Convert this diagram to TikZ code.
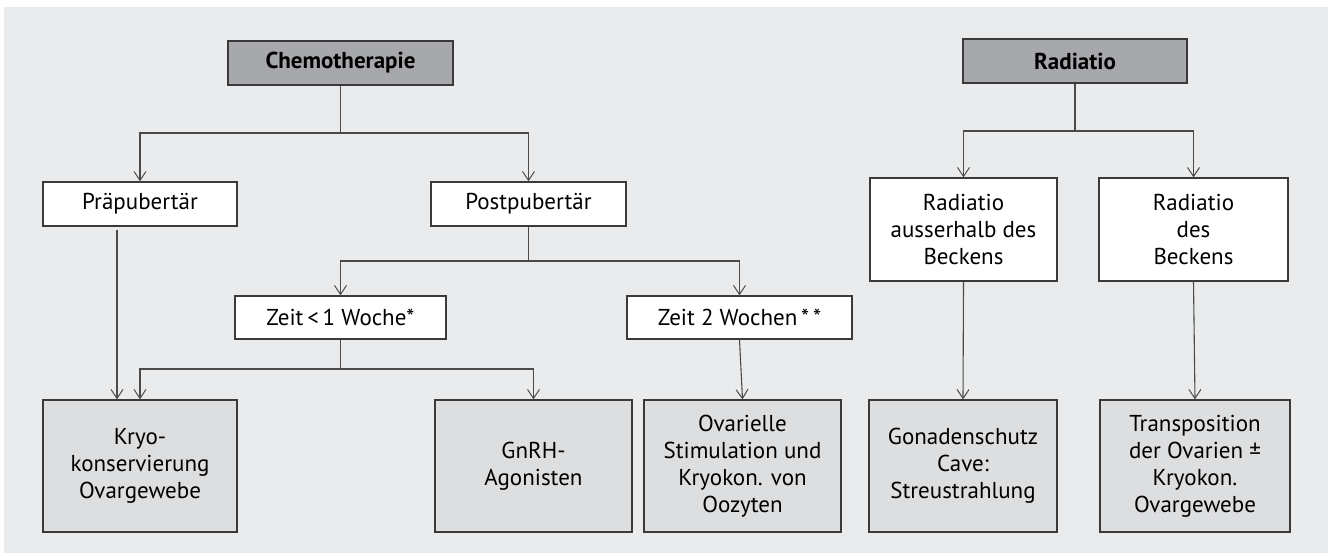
\documentclass[tikz,border=0pt]{standalone}
\usepackage{fontspec}
\setmainfont{PT Sans}
\usetikzlibrary{arrows.meta}
\definecolor{panel}{HTML}{EAEBEC}
\definecolor{darkfill}{HTML}{A6A8AB}
\definecolor{lightfill}{HTML}{DDDEE0}
\definecolor{edge}{HTML}{3A3A3A}
\definecolor{conn}{HTML}{4A4A4A}
\tikzset{
  box/.style={draw=edge, line width=1.3pt, inner sep=0pt, align=center,
    font=\fontsize{23}{27}\selectfont, text=black},
  headbox/.style={box, fill=darkfill, font=\fontsize{23}{27}\selectfont\bfseries},
  whitebox/.style={box, fill=white},
  endbox/.style={box, fill=lightfill},
  link/.style={draw=conn, line width=1.1pt},
  arr/.style={link, -{Straight Barb[length=9pt,width=12pt,line width=1pt]}}
}
\begin{document}
\begin{tikzpicture}[x=1pt,y=-1pt]
\useasboundingbox (0,0) rectangle (1335,556);
\fill[panel] (4,7) rectangle (1328,553);
% top level
\node[headbox, minimum width=225pt, minimum height=44pt] (chemo) at (340.5,63) {Chemotherapie};
\node[headbox, minimum width=224pt, minimum height=44pt] (radi) at (1075,61) {Radiatio};
% second level
\node[whitebox, minimum width=194pt, minimum height=44pt] (prae) at (140,204) {Präpubertär};
\node[whitebox, minimum width=195pt, minimum height=44pt] (post) at (528.5,204) {Postpubertär};
\node[whitebox, minimum width=187pt, minimum height=103pt] (rada) at (963.5,229.5) {Radiatio\\ausserhalb des\\Beckens};
\node[whitebox, minimum width=189pt, minimum height=103pt] (radb) at (1193.5,229.5) {Radiatio\\des\\Beckens};
% third level
\node[whitebox, minimum width=211pt, minimum height=43pt] (zeita) at (340.5,317.5) {Zeit\,<\,1 Woche*};
\node[whitebox, minimum width=225pt, minimum height=43pt] (zeitb) at (739.5,317.5) {Zeit 2 Wochen\,*\,*};
% bottom level
\node[endbox, minimum width=194pt, minimum height=132pt] (kryo) at (140,466) {Kryo-\\konservierung\\Ovargewebe};
\node[endbox, minimum width=197pt, minimum height=132pt] (gnrh) at (533.5,466) {GnRH-\\Agonisten};
\node[endbox, minimum width=197pt, minimum height=132pt] (ovar) at (742.5,466) {Ovarielle\\Stimulation und\\Kryokon. von\\Oozyten};
\node[endbox, minimum width=188pt, minimum height=132pt] (gona) at (963,466) {Gonadenschutz\\Cave:\\Streustrahlung};
\node[endbox, minimum width=190pt, minimum height=132pt] (trans) at (1195,466) {Transposition\\der Ovarien ±\\Kryokon.\\Ovargewebe};
% junctions
\coordinate (jc) at (340.5,133);
\coordinate (jp) at (528.5,261);
\coordinate (jz) at (340.5,369);
\coordinate (jr) at (1075,131);
\coordinate (ps) at (117,230);
% connectors
\draw[link] (chemo.south) -- (jc);
\draw[arr] (jc) -| (prae.north);
\draw[arr] (jc) -| (post.north);
\draw[link] (post.south) -- (jp);
\draw[arr] (jp) -| (zeita.north);
\draw[arr] (jp) -| (zeitb.north);
\draw[link] (zeita.south) -- (jz);
\draw[arr] (jz) -| (kryo.north);
\draw[arr] (jz) -| (gnrh.north);
\draw[arr] (ps) -- (ps |- kryo.north);
\draw[arr] (zeitb.south) -- (ovar.north);
\draw[link] (radi.south) -- (jr);
\draw[arr] (jr) -| (rada.north);
\draw[arr] (jr) -| (radb.north);
\draw[arr] (rada.south) -- (gona.north);
\draw[arr] (radb.south) -- (trans.north);
\end{tikzpicture}
\end{document}
